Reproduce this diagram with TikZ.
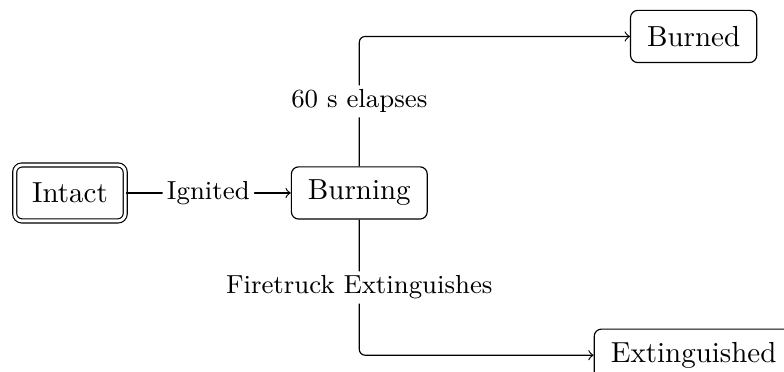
\documentclass[tikz,border=0pt]{standalone}
\usepackage{amsmath,amssymb}
\usetikzlibrary{positioning}

\begin{document}
\begin{tikzpicture}[
        phase/.style={rectangle,draw,rounded corners=2.5pt,inner xsep=5.7pt,minimum height=18pt},
        trans/.style={->,rounded corners=2pt},
        cond/.style={fill=white,font=\small,inner sep=1.5pt}]
            \useasboundingbox (-0.848,-2.17) rectangle (8.655,2.339);
            \node[phase,double,double distance=1pt,inner xsep=6pt,minimum height=19.3pt] (a) {Intact};
            \node[phase] (b)[right =2cm of a] {Burning};
            \node[phase] (c)[above right =1.25cm and 2.45cm of b] {Burned};
            \node[phase] (d)[below right =1.32cm and 2.01cm of b] {Extinguished};
            \path[trans](a) edge node[cond]{Ignited} (b);
            \draw[trans] (b) |- node[cond,pos=0.25]{60 s elapses} (c);
            \draw[trans] (b) |- node[cond,pos=0.25]{Firetruck Extinguishes} (d);
        \end{tikzpicture}
\end{document}
